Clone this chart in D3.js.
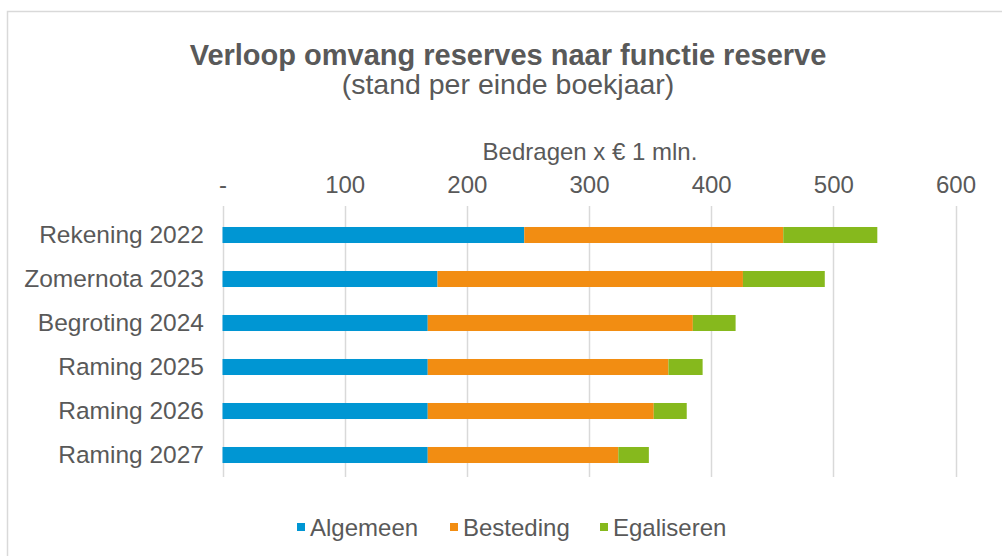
<!DOCTYPE html>
<html>
<head>
<meta charset="utf-8">
<script src="https://cdn.jsdelivr.net/npm/d3@7"></script>
<style>
  body { margin: 0; background: #fff; }
  text { font-family: "Liberation Sans", Arial, sans-serif; fill: #595959; }
</style>
</head>
<body>
<script>
var w = 1002;
var h = 556;

// data (bedragen x EUR 1 mln.)
var categories = ["Rekening 2022", "Zomernota 2023", "Begroting 2024", "Raming 2025", "Raming 2026", "Raming 2027"];
var seriesNames = ["Algemeen", "Besteding", "Egaliseren"];
var algemeen = [247, 176, 168, 168, 168, 168];
var besteding = [212, 250, 217, 197, 185, 156];
var egaliseren = [77, 67, 35, 28, 27, 25];
var ticks = [0, 100, 200, 300, 400, 500, 600];
var colors = ["#0096d3", "#f28d12", "#86b91d"];

var rows = categories.map(function(c, i) {
  return { cat: c, Algemeen: algemeen[i], Besteding: besteding[i], Egaliseren: egaliseren[i] };
});
var stacked = d3.stack().keys(seriesNames)(rows);

var svg = d3.select("body").append("svg")
  .attr("width", w)
  .attr("height", h);

// outer frame
svg.append("path")
  .attr("d", "M7.5," + h + "V11.5H" + w)
  .attr("fill", "none")
  .attr("stroke", "#d9d9d9")
  .attr("stroke-width", 1.5);

var x = d3.scaleLinear().domain([0, 600]).range([222.5, 955.5]);
var y = d3.scaleBand().domain(categories).range([213, 477]).paddingInner(0.636).paddingOuter(0.318);

// gridlines
svg.append("g").selectAll("line")
  .data(ticks)
  .enter()
  .append("line")
  .attr("x1", function(d) { return Math.round(x(d)) + 0.5; })
  .attr("x2", function(d) { return Math.round(x(d)) + 0.5; })
  .attr("y1", 206)
  .attr("y2", 477)
  .style("stroke", "#d9d9d9")
  .style("stroke-width", 1.5);

// top axis labels
var axis = d3.axisTop(x)
  .tickValues(ticks)
  .tickSize(0)
  .tickPadding(0)
  .tickFormat(function(d) { return d === 0 ? "-" : d; });
var ax = svg.append("g").attr("transform", "translate(0,193)").call(axis);
ax.select(".domain").remove();
ax.selectAll("text")
  .attr("dy", 0)
  .style("font-size", "24px")
  .style("font-family", "\"Liberation Sans\", Arial, sans-serif")
  .style("fill", "#595959");

// bars
svg.append("g").selectAll("g")
  .data(stacked)
  .enter()
  .append("g")
  .attr("fill", function(d, i) { return colors[i]; })
  .selectAll("rect")
  .data(function(d) { return d; })
  .enter()
  .append("rect")
  .attr("x", function(d) { return x(d[0]); })
  .attr("width", function(d) { return x(d[1]) - x(d[0]); })
  .attr("y", function(d) { return y(d.data.cat); })
  .attr("height", y.bandwidth());

// category labels
var ay = d3.axisLeft(y).tickSize(0).tickPadding(0);
var gy = svg.append("g").attr("transform", "translate(204,0)").call(ay);
gy.select(".domain").remove();
gy.selectAll("text")
  .attr("dy", "0.34em")
  .style("font-size", "24.5px")
  .style("font-family", "\"Liberation Sans\", Arial, sans-serif")
  .style("fill", "#595959");

// titles
svg.append("text")
  .attr("x", 508)
  .attr("y", 65)
  .attr("text-anchor", "middle")
  .style("font-size", "29px")
  .style("font-weight", "bold")
  .text("Verloop omvang reserves naar functie reserve");

svg.append("text")
  .attr("x", 508)
  .attr("y", 94)
  .attr("text-anchor", "middle")
  .style("font-size", "28.5px")
  .text("(stand per einde boekjaar)");

svg.append("text")
  .attr("x", 590)
  .attr("y", 160)
  .attr("text-anchor", "middle")
  .style("font-size", "24px")
  .text("Bedragen x € 1 mln.");

// legend
var legendX = [297, 450, 600];
var legend = svg.append("g").selectAll("g")
  .data(seriesNames)
  .enter()
  .append("g")
  .attr("transform", function(d, i) { return "translate(" + legendX[i] + ",527)"; });
legend.append("rect")
  .attr("x", 0)
  .attr("y", -4)
  .attr("width", 8)
  .attr("height", 8)
  .attr("fill", function(d, i) { return colors[i]; });
legend.append("text")
  .attr("x", 13)
  .attr("y", 9)
  .style("font-size", "24px")
  .text(function(d) { return d; });
</script>
</body>
</html>
